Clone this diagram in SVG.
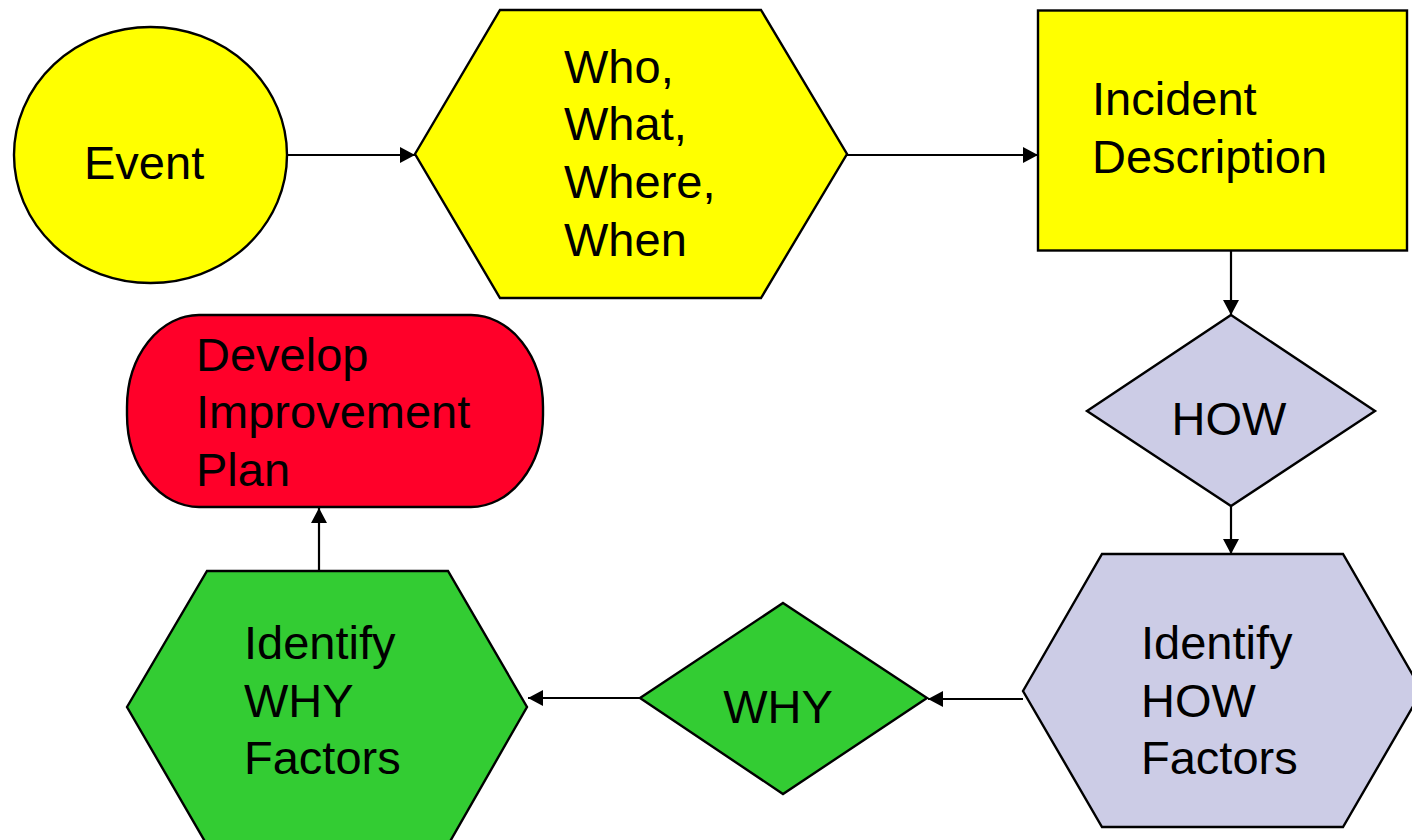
<svg xmlns="http://www.w3.org/2000/svg" width="1412" height="840" viewBox="0 0 1412 840">
<style>
.shape{stroke:#000;stroke-width:2.4}
.yellow{fill:#FFFF00}
.lav{fill:#CCCCE6}
.green{fill:#33CC33}
.red{fill:#FF0029}
.lbl{font-family:"Liberation Sans",Arial,sans-serif;font-size:47px;fill:#000}
.conn{stroke:#000;stroke-width:2.2;fill:none;marker-end:url(#arr)}
</style>
<defs>
<marker id="arr" markerWidth="16" markerHeight="16" refX="15" refY="8" orient="auto" markerUnits="userSpaceOnUse">
<path d="M0,0 L15,8 L0,16 Z" fill="#000"/>
</marker>
</defs>
<rect width="1412" height="840" fill="#fff"/>
<g id="event">
<ellipse class="shape yellow" cx="150.5" cy="155" rx="136.5" ry="128"/>
<text class="lbl" x="84" y="179">Event</text>
</g>
<g id="who">
<polygon class="shape yellow" points="415,154 500,10 761,10 847,154 761,298 500,298"/>
<text class="lbl" x="564" y="83">Who,</text>
<text class="lbl" x="564" y="140">What,</text>
<text class="lbl" x="564" y="198">Where,</text>
<text class="lbl" x="564" y="256">When</text>
</g>
<g id="incident">
<rect class="shape yellow" x="1038" y="10.5" width="369" height="240"/>
<text class="lbl" x="1092" y="115">Incident</text>
<text class="lbl" x="1092" y="173">Description</text>
</g>
<g id="how">
<polygon class="shape lav" points="1231,315 1375,411 1231,506 1087,411"/>
<text class="lbl" x="1229" y="435" text-anchor="middle">HOW</text>
</g>
<g id="howfactors">
<polygon class="shape lav" points="1023,691 1102,554 1343,554 1422,691 1343,827 1102,827"/>
<text class="lbl" x="1141" y="659">Identify</text>
<text class="lbl" x="1141" y="717">HOW</text>
<text class="lbl" x="1141" y="774">Factors</text>
</g>
<g id="why">
<polygon class="shape green" points="783,603 927,698 783,794 640,698"/>
<text class="lbl" x="778" y="723" text-anchor="middle">WHY</text>
</g>
<g id="whyfactors">
<polygon class="shape green" points="127,707 207,571 448,571 527,707 448,845 207,845"/>
<text class="lbl" x="244" y="659">Identify</text>
<text class="lbl" x="244" y="717">WHY</text>
<text class="lbl" x="244" y="774">Factors</text>
</g>
<g id="plan">
<rect class="shape red" x="127" y="315" width="416" height="192" rx="72" ry="92"/>
<text class="lbl" x="196" y="371">Develop</text>
<text class="lbl" x="196" y="428">Improvement</text>
<text class="lbl" x="196" y="486">Plan</text>
</g>
<g id="connectors">
<line class="conn" x1="287" y1="155" x2="415" y2="155"/>
<line class="conn" x1="847" y1="155" x2="1038" y2="155"/>
<line class="conn" x1="1231" y1="251" x2="1231" y2="315"/>
<line class="conn" x1="1231" y1="506" x2="1231" y2="554"/>
<line class="conn" x1="1023" y1="699" x2="928" y2="699"/>
<line class="conn" x1="640" y1="698" x2="528" y2="698"/>
<line class="conn" x1="319" y1="571" x2="319" y2="508"/>
</g>
</svg>
